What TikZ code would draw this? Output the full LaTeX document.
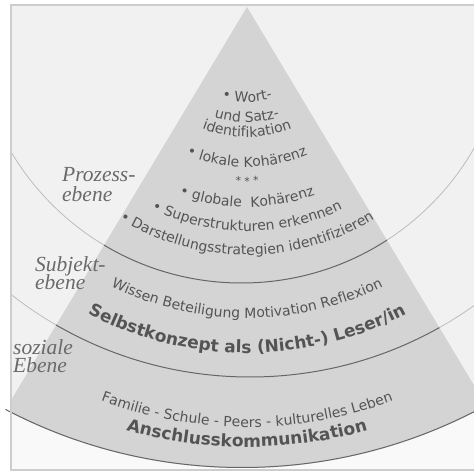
\documentclass[tikz,border=0pt]{standalone}
\usepackage{fontspec}
\setmainfont{DejaVu Sans}
\newfontfamily\levelfont{Liberation Serif}
\usetikzlibrary{decorations.text}

\definecolor{paper}{HTML}{F1F1F1}
\definecolor{lowpaper}{HTML}{F9F9F9}
\definecolor{pyramid}{HTML}{D4D4D4}
\definecolor{framegray}{HTML}{CDCDCD}
\definecolor{darkline}{HTML}{666666}
\definecolor{lightline}{HTML}{BDBDBD}
\definecolor{inktext}{HTML}{545454}
\definecolor{labelink}{HTML}{6A6A6A}

\newcommand\regtext{\fontsize{14}{16}\selectfont}
\newcommand\smalltext{\fontsize{11}{13}\selectfont}
\newcommand\boldtext{\fontsize{17}{20}\selectfont\bfseries}

% one line of text bent along a circle around (Ct)
\newcommand\curvedline[2]{%
  \path[decorate,decoration={text along path,text align=center,
        text color=inktext,text={#2}}]
    ([shift={(-150:#1)}]Ct) arc[start angle=-150,end angle=-30,radius=#1];}

\tikzset{
  levellabel/.style={anchor=base west,inner sep=0pt,text=labelink,
    font=\levelfont\itshape\fontsize{21.5}{22}\selectfont},
  boundary/.style={line width=1pt,draw=darkline},
  faintboundary/.style={line width=0.8pt,draw=lightline},
}

\begin{document}
\begin{tikzpicture}[x=1pt,y=1pt]
\useasboundingbox (0,0) rectangle (474,475);
\fill[white] (0,0) rectangle (474,475);

\coordinate (apex) at (247,468);
\coordinate (Ct) at (247,465);
\coordinate (c1) at (241.5,460);
\coordinate (c2) at (250,485);
\coordinate (c3) at (242,517);

% panel, a little lighter below the outer arc
\fill[lowpaper] (11,5) rectangle (490,470);
\begin{scope}
  \clip (11,5) rectangle (490,470);
  \fill[paper] (c3) circle[radius=510];
\end{scope}

% level boundaries outside the pyramid
\begin{scope}
  \clip (11,5) rectangle (490,470);
  \path[faintboundary] (c1) circle[radius=268];
  \path[faintboundary] (c2) circle[radius=387];
\end{scope}

% pyramid, cut off by the outer arc
\begin{scope}
  \clip (apex) -- ++(-295.8,-493) -- ++(591.6,0) -- cycle;
  \clip (c3) circle[radius=510];
  \fill[pyramid] (11,5) rectangle (490,470);
  \path[boundary] (c1) circle[radius=268];
  \path[boundary] (c2) circle[radius=387];
  \path[boundary,line width=2pt] (c3) circle[radius=510];
\end{scope}

% panel border
\draw[framegray,line width=1.5pt] (11,5) rectangle (490,470);

% level names
\node[levellabel] (prozessA) at (62,293) {Prozess-};
\node[levellabel] (prozessB) at (62,273) {ebene};
\node[levellabel] (subjektA) at (35,203) {Subjekt-};
\node[levellabel] (subjektB) at (35,185) {ebene};
\node[levellabel] (sozialA) at (13,120) {soziale};
\node[levellabel] (sozialB) at (13,102) {Ebene};

% process level
\curvedline{92}{|\regtext|• Wort-}
\curvedline{112}{|\regtext|und Satz-}
\curvedline{127}{|\regtext|identifikation}
\curvedline{157}{|\regtext|• lokale Kohärenz}
\curvedline{175}{|\smalltext|* * *}
\curvedline{197}{|\regtext|• globale {\ }Kohärenz}
\curvedline{221}{|\regtext|• Superstrukturen erkennen}
\curvedline{245}{|\regtext|• Darstellungsstrategien identifizieren}

% subject level
\curvedline{308}{|\regtext|Wissen Beteiligung Motivation Reflexion}
\curvedline{343}{|\boldtext|Selbstkonzept als (Nicht-) Leser/in}

% social level
\curvedline{417}{|\regtext|Familie - Schule - Peers - kulturelles Leben}
\curvedline{437}{|\boldtext|Anschlusskommunikation}
\end{tikzpicture}
\end{document}
